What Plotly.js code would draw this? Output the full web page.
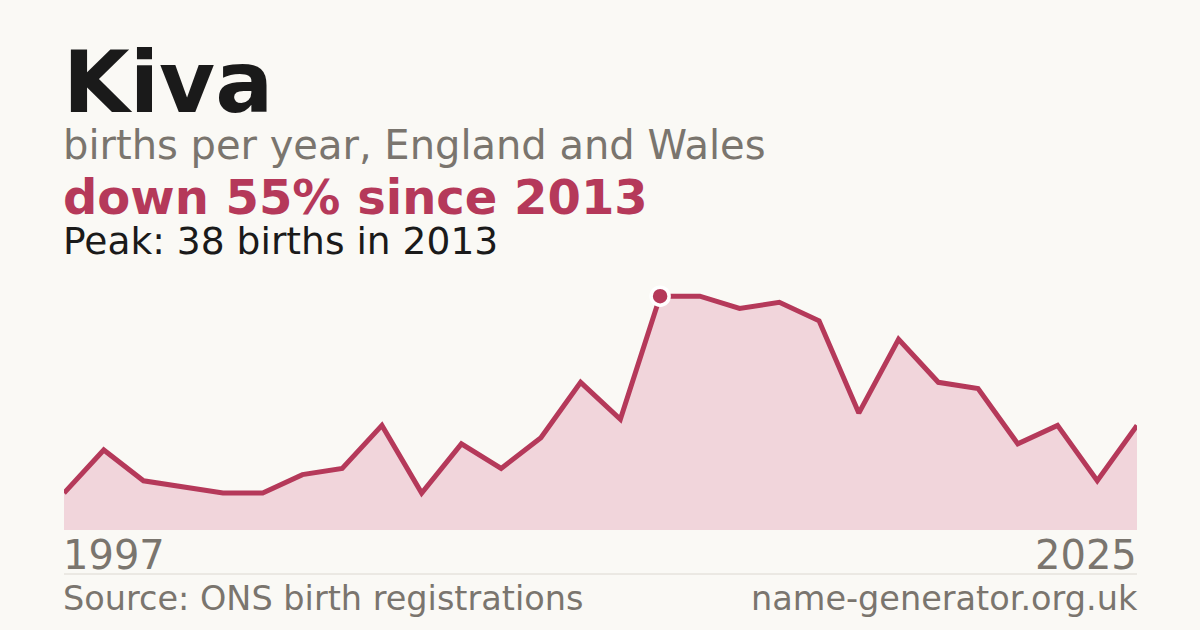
<!DOCTYPE html>
<html>
<head>
<meta charset="utf-8">
<script src="https://cdn.plot.ly/plotly-3.0.1.min.js"></script>
<style>
  html, body { margin: 0; padding: 0; background: #faf9f5; }
  #chart { width: 1200px; height: 630px; }
</style>
</head>
<body>
<div id="chart"></div>
<script>
// births per year (28 points)
const years = [1998, 1999, 2000, 2001, 2002, 2003, 2004, 2005, 2006, 2007, 2008, 2009, 2010, 2011,
               2012, 2013, 2014, 2015, 2016, 2017, 2018, 2019, 2020, 2021, 2022, 2023, 2024, 2025];
const births = [6, 13, 8, 7, 6, 6, 9, 10, 17, 6, 14, 10, 15, 24,
                18, 38, 38, 36, 37, 34, 19, 31, 24, 23, 14, 17, 8, 17];
const endLabels = ['1997', '2025'];

const RED = '#b5395a';
const GREY = '#7a756e';
const FONT = 'DejaVu Sans, sans-serif';

const cats = years.map(String);
const peak = Math.max(...births);
const peakIdx = births.indexOf(peak);
const last = births[births.length - 1];
const drop = Math.round((1 - last / peak) * 100);

// pixel helper: plot area runs y=290..530
const py = p => (530 - p) / 240;

const area = {
  x: cats,
  y: births,
  type: 'scatter',
  mode: 'lines',
  fill: 'tozeroy',
  fillcolor: '#f1d5db',
  line: { color: RED, width: 5 },
  hoverinfo: 'skip'
};

const peakDot = {
  x: [cats[peakIdx]],
  y: [peak],
  type: 'scatter',
  mode: 'markers',
  marker: { size: 18, color: RED, line: { color: '#ffffff', width: 3.5 } },
  cliponaxis: false,
  hoverinfo: 'skip'
};

const note = (text, y, size, color, opts = {}) => ({
  xref: 'paper', yref: 'paper', x: 0, y: py(y), xshift: -3,
  xanchor: 'left', yanchor: 'middle', showarrow: false,
  text, font: { family: FONT, size, color }, ...opts
});

const layout = {
  width: 1200,
  height: 630,
  margin: { l: 64, r: 63, t: 290, b: 100 },
  paper_bgcolor: '#faf9f5',
  plot_bgcolor: '#faf9f5',
  showlegend: false,
  xaxis: {
    type: 'category',
    range: [0, cats.length - 1],
    showgrid: false, zeroline: false, showline: false, showticklabels: false, ticks: ''
  },
  yaxis: {
    range: [0, 39],
    showgrid: false, zeroline: false, showline: false, showticklabels: false, ticks: ''
  },
  shapes: [{
    type: 'line', xref: 'paper', yref: 'paper', x0: 0, x1: 1, y0: py(574), y1: py(574),
    line: { color: '#dcd8d1', width: 1 }
  }],
  annotations: [
    note('<b>Kiva</b>', 82, 86, '#1a1a1a'),
    note('births per year, England and Wales', 145, 40, GREY),
    note(`<b>down ${drop}% since ${years[peakIdx]}</b>`, 197, 48, RED),
    note(`Peak: ${peak} births in ${years[peakIdx]}`, 241, 37.6, '#1a1a1a'),
    {
      xref: 'x', yref: 'paper', x: 0, y: py(555), xshift: -3, xanchor: 'left', yanchor: 'middle',
      showarrow: false, text: endLabels[0], font: { family: FONT, size: 40, color: GREY }
    },
    {
      xref: 'x', yref: 'paper', x: cats.length - 1, y: py(555), xshift: 2, xanchor: 'right', yanchor: 'middle',
      showarrow: false, text: endLabels[1], font: { family: FONT, size: 40, color: GREY }
    },
    note('Source: ONS birth registrations', 598, 33.5, GREY),
    note('name-generator.org.uk', 598, 33.5, GREY, { x: 1, xanchor: 'right', xshift: 3 })
  ]
};

Plotly.newPlot('chart', [area, peakDot], layout, { displayModeBar: false, staticPlot: true });
</script>
</body>
</html>
